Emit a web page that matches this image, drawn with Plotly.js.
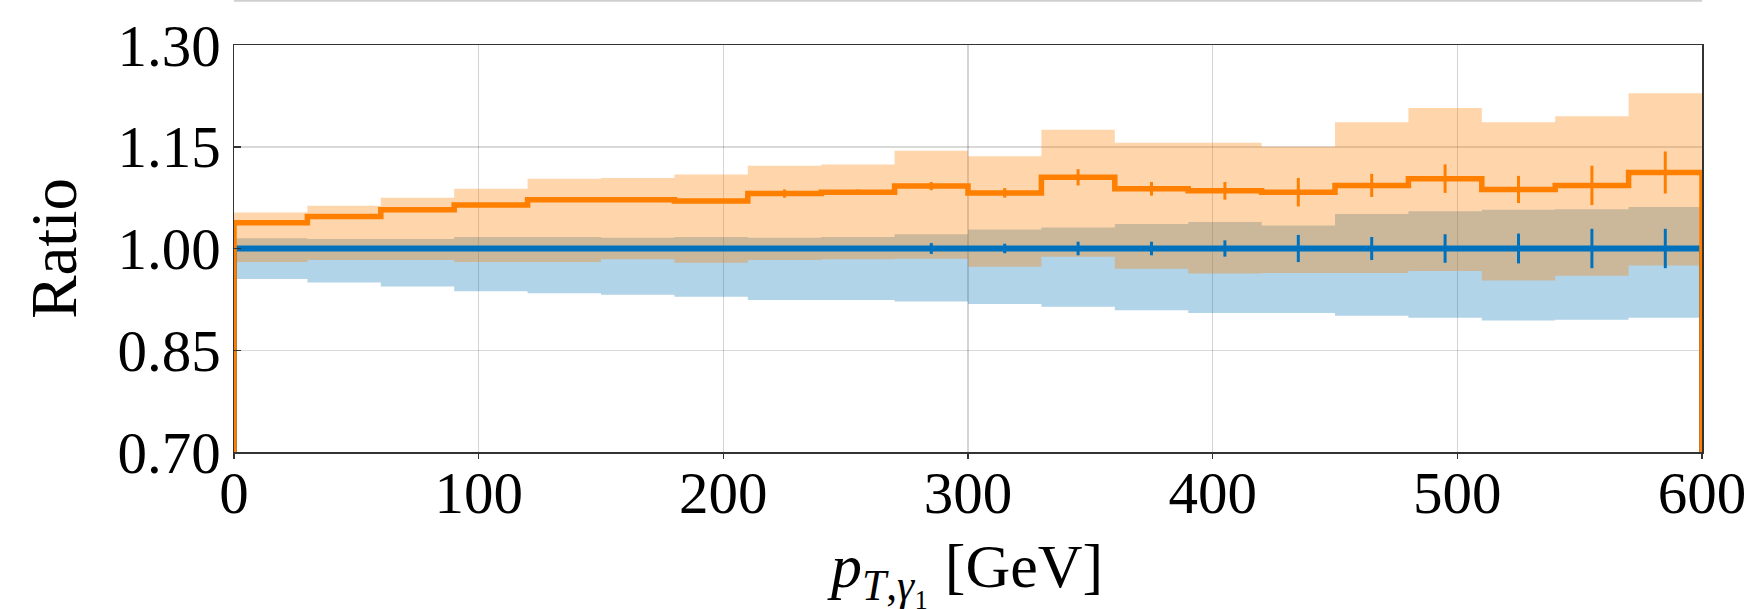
<!DOCTYPE html>
<html>
<head>
<meta charset="utf-8">
<script src="https://cdn.plot.ly/plotly-3.0.1.min.js"></script>
<style>html,body{margin:0;padding:0;background:#fff;}#chart{width:1752px;height:609px;}</style>
</head>
<body>
<div id="chart"></div>
<script>
// ---- data ----
const binEdges   = [0,30,60,90,120,150,180,210,240,270,300,330,360,390,420,450,480,510,540,570,600];
const binCenters = [15,45,75,105,135,165,195,225,255,285,315,345,375,405,435,465,495,525,555,585];

const orangeRatio    = [1.038,1.047,1.057,1.064,1.072,1.072,1.070,1.081,1.083,1.092,1.082,1.105,1.088,1.085,1.083,1.093,1.103,1.087,1.093,1.112];
const orangeBandHigh = [1.053,1.063,1.075,1.088,1.103,1.104,1.109,1.122,1.124,1.144,1.136,1.175,1.156,1.156,1.150,1.186,1.207,1.186,1.195,1.229];
const orangeBandLow  = [0.980,0.983,0.983,0.980,0.980,0.984,0.979,0.983,0.984,0.985,0.973,0.988,0.970,0.963,0.964,0.964,0.967,0.953,0.960,0.975];
const orangeStatErr  = [0.001,0.001,0.001,0.001,0.002,0.002,0.002,0.006,0.004,0.006,0.007,0.012,0.010,0.013,0.021,0.017,0.021,0.020,0.029,0.031];

const blueRatio      = [1,1,1,1,1,1,1,1,1,1,1,1,1,1,1,1,1,1,1,1];
const blueBandHigh   = [1.015,1.014,1.014,1.017,1.017,1.016,1.017,1.016,1.017,1.021,1.028,1.031,1.036,1.039,1.034,1.051,1.055,1.057,1.058,1.061];
const blueBandLow    = [0.955,0.950,0.944,0.937,0.934,0.932,0.929,0.924,0.924,0.922,0.918,0.914,0.909,0.905,0.905,0.901,0.898,0.894,0.895,0.898];
const blueStatErr    = [0.002,0.002,0.002,0.002,0.002,0.002,0.002,0.002,0.002,0.008,0.007,0.010,0.010,0.012,0.020,0.017,0.021,0.022,0.029,0.029];

const histBaseline = 0;
const yTickVals = [0.70,0.85,1.00,1.15,1.30];
const yTickText = ['0.70','0.85','1.00','1.15','1.30'];
const xTickVals = [0,100,200,300,400,500,600];
const xTickText = ['0','100','200','300','400','500','600'];

// ---- styling ----
const ORANGE = 'rgb(255,127,0)';
const ORANGE_FILL = 'rgba(255,127,0,0.33)';
const BLUE = 'rgb(0,114,189)';
const BLUE_FILL = 'rgba(0,114,178,0.30)';
const FONT = 'Liberation Serif, Times New Roman, serif';

function stepY(vals){ return vals.concat([vals[vals.length-1]]); }
function dropStep(vals){
  return {
    x: [binEdges[0]].concat(binEdges, [binEdges[binEdges.length-1]]),
    y: [histBaseline].concat(stepY(vals), [histBaseline])
  };
}
function band(lo, hi, fill){
  return [
    {x: binEdges, y: stepY(lo), mode:'lines', line:{shape:'hv', width:0, color:fill}, hoverinfo:'skip', showlegend:false},
    {x: binEdges, y: stepY(hi), mode:'lines', line:{shape:'hv', width:0, color:fill}, fill:'tonexty', fillcolor:fill, hoverinfo:'skip', showlegend:false}
  ];
}
function stepLine(vals, color, w){
  const s = dropStep(vals);
  return {x: s.x, y: s.y, mode:'lines', line:{shape:'hv', width:w, color:color}, showlegend:false};
}
function errBars(vals, errs, color){
  return {x: binCenters, y: vals, mode:'markers', marker:{size:1, color:'rgba(0,0,0,0)'},
    error_y:{type:'data', array:errs, visible:true, color:color, thickness:3, width:0}, showlegend:false};
}

const traces = []
  .concat(band(blueBandLow, blueBandHigh, BLUE_FILL))
  .concat(band(orangeBandLow, orangeBandHigh, ORANGE_FILL))
  .concat([stepLine(blueRatio, BLUE, 6), errBars(blueRatio, blueStatErr, BLUE)])
  .concat([stepLine(orangeRatio, ORANGE, 5.5), errBars(orangeRatio, orangeStatErr, ORANGE)]);

const L = 234.3, R = 1702.3, T = 45, B = 451.7;
const W = 1752, H = 609;
const plotH = B - T, plotW = R - L;

const layout = {
  width: W, height: H,
  margin: {l: L, r: W - R, t: T, b: H - B, pad: 0},
  paper_bgcolor: '#ffffff', plot_bgcolor: '#ffffff',
  font: {family: FONT, color: '#000'},
  showlegend: false,
  xaxis: {
    range: [0, 600], tickvals: xTickVals, ticktext: xTickText,
    ticks: 'outside', ticklen: 5, tickwidth: 1.5, tickcolor: '#333',
    showline: true, mirror: true, linecolor: '#333', linewidth: 1.5,
    showgrid: true, gridcolor: 'rgba(0,0,0,0.17)', gridwidth: 1.5,
    zeroline: false, ticklabelstandoff: -16,
    tickfont: {family: FONT, size: 59, color: '#000'}
  },
  yaxis: {
    range: [0.70, 1.30], tickvals: yTickVals, ticktext: yTickText,
    ticks: 'inside', ticklen: 7, tickwidth: 1.5, tickcolor: '#333',
    showline: true, mirror: true, linecolor: '#333', linewidth: 1.5,
    showgrid: true, gridcolor: 'rgba(0,0,0,0.15)', gridwidth: 1.5,
    zeroline: false, tickfont: {family: FONT, size: 59, color: '#000'}
  },
  annotations: [
    {text: 'Ratio', xref: 'paper', yref: 'paper',
     x: (54 - L) / plotW, y: (B - 248) / plotH, xanchor: 'center', yanchor: 'middle',
     textangle: -90, showarrow: false, font: {family: FONT, size: 65, color: '#000'}},
    {text: '<i>p</i><sub><i>T</i>,<i>γ</i>₁</sub> [GeV]', xref: 'paper', yref: 'paper',
     x: (965 - L) / plotW, y: (B - 570) / plotH, xanchor: 'center', yanchor: 'middle',
     showarrow: false, font: {family: FONT, size: 62, color: '#000'}}
  ],
  shapes: [
    {type: 'line', xref: 'paper', yref: 'paper', x0: 0, x1: 1,
     y0: 1 + (T - 0.8) / plotH, y1: 1 + (T - 0.8) / plotH,
     line: {color: '#cfcfcf', width: 2}}
  ]
};

Plotly.newPlot('chart', traces, layout, {displayModeBar: false, staticPlot: true});
</script>
</body>
</html>
